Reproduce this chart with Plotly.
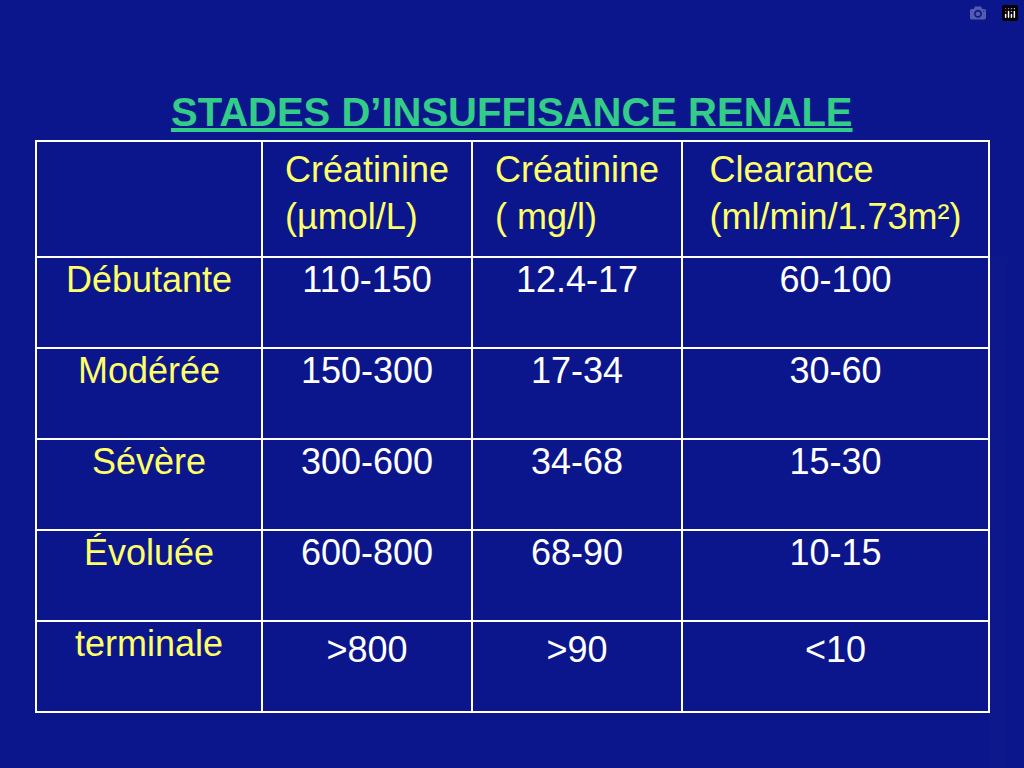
import plotly.graph_objects as go

header = ["", "Créatinine<br>(µmol/L)", "Créatinine<br>( mg/l)", "Clearance<br>(ml/min/1.73m²)"]
stades = ["Débutante", "Modérée", "Sévère", "Évoluée", "terminale"]
creat_umol = ["110-150", "150-300", "300-600", "600-800", ">800"]
creat_mg = ["12.4-17", "17-34", "34-68", "68-90", ">90"]
clearance = ["60-100", "30-60", "15-30", "10-15", "<10"]

W, H = 1024, 768
yellow = "#FFFF66"
fig = go.Figure(go.Table(
    domain=dict(x=[36/W, 989/W], y=[0, 1-141/H]),
    columnwidth=[226, 210, 210, 307],
    header=dict(values=header, height=116, align="center",
                fill_color="rgba(0,0,0,0)", line=dict(color="white", width=2),
                font=dict(family="Liberation Sans, Arial", size=36, color=yellow)),
    cells=dict(values=[stades, creat_umol, creat_mg, clearance], height=91, align="center",
               fill_color="rgba(0,0,0,0)", line=dict(color="white", width=2),
               font=dict(family="Liberation Sans, Arial", size=36,
                         color=[yellow, "white", "white", "white"])),
))
fig.add_annotation(x=0.5, y=1-88/H, xref="paper", yref="paper", showarrow=False,
                   text="<b><u>STADES D’INSUFFISANCE RENALE</u></b>",
                   font=dict(family="Liberation Sans, Arial", size=40, color="#33CC88"))
fig.update_layout(width=W, height=H, margin=dict(l=0, r=0, t=0, b=0),
                  paper_bgcolor="#0c168c", plot_bgcolor="#0c168c")
fig.write_html("out.html")
with open("out.html", encoding="utf-8") as f:
    html = f.read()
html = html.replace("<body>", '<body style="margin:0;background:#0c168c">', 1)
with open("out.html", "w", encoding="utf-8") as f:
    f.write(html)
